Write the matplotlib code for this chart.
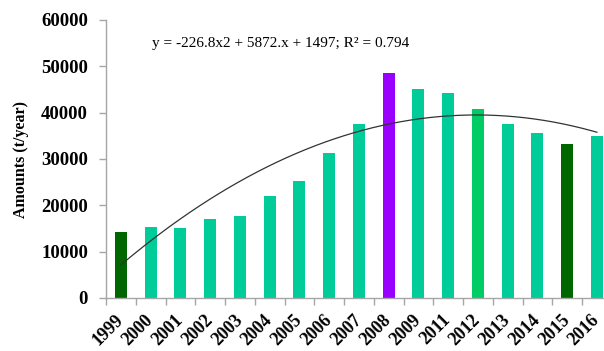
import numpy as np
import matplotlib
matplotlib.use("Agg")
import matplotlib.pyplot as plt

years = ["1999", "2000", "2001", "2002", "2003", "2004", "2005", "2006", "2007",
         "2008", "2009", "2011", "2012", "2013", "2014", "2015", "2016"]
amounts = [14200, 15400, 15200, 17100, 17800, 22000, 25300, 31400, 37600,
           48500, 45000, 44300, 40700, 37600, 35600, 33300, 35000]
bar_colors = ["#006600", "#00CC99", "#00CC99", "#00CC99", "#00CC99", "#00CC99",
              "#00CC99", "#00CC99", "#00CC99", "#9900FF", "#00CC99", "#00CC99",
              "#00CC66", "#00CC99", "#00CC99", "#006600", "#00CC99"]
y_ticks = [0, 10000, 20000, 30000, 40000, 50000, 60000]

# quadratic trend coefficients (x = 1 .. n)
trend_a, trend_b, trend_c = -226.8, 5872.0, 1497.0
trend_label = "y = -226.8x2 + 5872.x + 1497; R² = 0.794"

serif = ["Liberation Serif", "DejaVu Serif"]

fig = plt.figure(figsize=(6.04, 3.51), dpi=100)
ax = fig.add_axes([106 / 604, 53 / 351, 505.75 / 604, 278 / 351])

x = np.arange(len(years))
ax.bar(x, amounts, width=0.4, color=bar_colors, zorder=2)

xt = np.linspace(0, len(years) - 1, 200)
xp = xt + 1
ax.plot(xt, trend_a * xp ** 2 + trend_b * xp + trend_c,
        color="#333333", lw=0.9, zorder=3)

ax.set_xlim(-0.5, len(years) - 0.5)
ax.set_ylim(0, 60000)
ax.set_yticks(y_ticks)
ax.set_yticklabels([str(v) for v in y_ticks], fontfamily=serif,
                   fontweight="bold", fontsize=13.5)

ax.set_xticks(x)
ax.set_xticklabels(years, rotation=45, ha="right", va="center",
                   rotation_mode="anchor", fontfamily=serif,
                   fontweight="bold", fontsize=13)
ax.tick_params(axis="x", which="major", length=0, pad=14)
ax.set_xticks(np.arange(-0.5, len(years)), minor=True)
ax.tick_params(axis="x", which="minor", length=5, color="#A6A6A6", width=1)
ax.tick_params(axis="y", length=5, color="#A6A6A6", width=1, pad=8)

for s in ["top", "right"]:
    ax.spines[s].set_visible(False)
for s in ["left", "bottom"]:
    ax.spines[s].set_color("#A6A6A6")
    ax.spines[s].set_linewidth(1)

ax.set_ylabel("Amounts (t/year)", fontfamily=serif, fontweight="bold",
              fontsize=11.5, labelpad=9)

fig.text(281 / 604, 1 - 44 / 351, trend_label, ha="center", va="center",
         fontfamily=serif, fontsize=11)

fig.savefig("out.png", dpi=100)
